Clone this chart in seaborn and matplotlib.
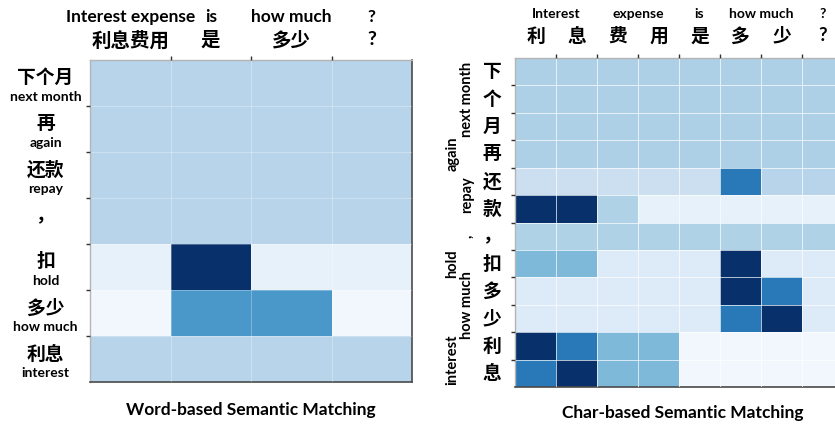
import matplotlib
matplotlib.use('Agg')
import matplotlib.pyplot as plt
import numpy as np
import pandas as pd
import seaborn as sns

# Word level: question words (columns) and reply words (rows)
q_words = ['利息费用', '是', '多少', '?']
q_words_en = ['Interest expense', 'is', 'how much', '?']
r_words = ['下个月', '再', '还款', '，', '扣', '多少', '利息']
r_words_en = ['next month', 'again', 'repay', '', 'hold', 'how much', 'interest']

word_scores = [
    [0.30, 0.30, 0.30, 0.30],
    [0.30, 0.30, 0.30, 0.30],
    [0.30, 0.30, 0.30, 0.30],
    [0.30, 0.30, 0.30, 0.30],
    [0.08, 1.00, 0.08, 0.08],
    [0.03, 0.60, 0.60, 0.03],
    [0.30, 0.30, 0.30, 0.30],
]

# Char level
q_chars = ['利', '息', '费', '用', '是', '多', '少', '?']
q_groups_en = ['Interest', 'expense', 'is', 'how much', '?']
q_group_sizes = [2, 2, 1, 2, 1]
r_chars = ['下', '个', '月', '再', '还', '款', '，', '扣', '多', '少', '利', '息']
r_groups_en = ['next month', 'again', 'repay', ',', 'hold', 'how much', 'interest']
r_group_sizes = [3, 1, 2, 1, 1, 2, 2]

char_scores = [
    [0.33, 0.33, 0.33, 0.33, 0.33, 0.33, 0.33, 0.33],
    [0.33, 0.33, 0.33, 0.33, 0.33, 0.33, 0.33, 0.33],
    [0.33, 0.33, 0.33, 0.33, 0.33, 0.33, 0.33, 0.33],
    [0.33, 0.33, 0.33, 0.33, 0.33, 0.33, 0.33, 0.33],
    [0.22, 0.22, 0.22, 0.22, 0.22, 0.72, 0.30, 0.30],
    [1.00, 1.00, 0.32, 0.08, 0.08, 0.08, 0.08, 0.08],
    [0.32, 0.32, 0.32, 0.32, 0.32, 0.32, 0.32, 0.32],
    [0.45, 0.45, 0.13, 0.13, 0.13, 1.00, 0.13, 0.13],
    [0.13, 0.13, 0.13, 0.13, 0.13, 1.00, 0.72, 0.13],
    [0.13, 0.13, 0.13, 0.13, 0.13, 0.72, 1.00, 0.13],
    [1.00, 0.72, 0.45, 0.45, 0.03, 0.03, 0.03, 0.03],
    [0.72, 1.00, 0.45, 0.45, 0.03, 0.03, 0.03, 0.03],
]

sns.set_theme(style='white')
plt.rcParams['font.family'] = ['Lato', 'Noto Sans CJK SC', 'DejaVu Sans']
plt.rcParams['font.weight'] = 'bold'
plt.rcParams['text.color'] = 'black'

W, H = 835, 426
fig = plt.figure(figsize=(W / 100, H / 100), dpi=100)


def px_axes(x0, y0, x1, y1):
    # pixel box (top-left origin) -> figure axes
    return fig.add_axes([x0 / W, 1 - y1 / H, (x1 - x0) / W, (y1 - y0) / H])


def draw_heat(ax, scores, rows, cols, grid_alpha):
    df = pd.DataFrame(scores, index=rows, columns=cols)
    sns.heatmap(df, ax=ax, cmap='Blues', vmin=0, vmax=1, cbar=False,
                xticklabels=False, yticklabels=False)
    ax.set_xticks(np.arange(1, len(cols)))
    ax.set_yticks(np.arange(1, len(rows)))
    ax.xaxis.tick_top()
    ax.tick_params(axis='both', length=3, width=1, color='#333333',
                   labelleft=False, labeltop=False, labelbottom=False,
                   left=True, top=True, bottom=False)
    ax.grid(True, color='white', lw=0.7, alpha=grid_alpha)
    ax.set_axisbelow(False)
    ax.set_xlabel('')
    ax.set_ylabel('')
    for side in ['top', 'left']:
        ax.spines[side].set_visible(True)
        ax.spines[side].set_color('#b5b5b5')
        ax.spines[side].set_linewidth(1.0)
    for side in ['bottom', 'right']:
        ax.spines[side].set_visible(True)
        ax.spines[side].set_color('#4a4a4a')
        ax.spines[side].set_linewidth(1.2)


# ---- Word-based ----
ax1 = px_axes(90, 60, 412, 382)
draw_heat(ax1, word_scores, r_words, q_words, 0.3)

xt = ax1.get_xaxis_transform()
yt = ax1.get_yaxis_transform()
for j, (zh, en) in enumerate(zip(q_words, q_words_en)):
    ax1.annotate(en, xy=(j + 0.5, 1), xycoords=xt, xytext=(0, 31),
                 textcoords='offset points', ha='center', va='center',
                 fontsize=12.5, fontweight='bold')
    ax1.annotate(zh, xy=(j + 0.5, 1), xycoords=xt, xytext=(0, 14.5),
                 textcoords='offset points', ha='center', va='center',
                 fontsize=14, fontweight='bold')
for i, (zh, en) in enumerate(zip(r_words, r_words_en)):
    ax1.annotate(zh, xy=(0, i + 0.5), xycoords=yt, xytext=(-32, 4),
                 textcoords='offset points', ha='center', va='center',
                 fontsize=13.5, fontweight='bold')
    ax1.annotate(en, xy=(0, i + 0.5), xycoords=yt, xytext=(-32, -10),
                 textcoords='offset points', ha='center', va='center',
                 fontsize=10, fontweight='bold')
fig.text(251 / W, 1 - 410 / H, 'Word-based Semantic Matching', ha='center',
         va='center', fontsize=12.5, fontweight='bold')

# ---- Char-based ----
ax2 = px_axes(515, 58, 843, 387)
draw_heat(ax2, char_scores, r_chars, q_chars, 0.7)

xt = ax2.get_xaxis_transform()
yt = ax2.get_yaxis_transform()
for j, zh in enumerate(q_chars):
    ax2.annotate(zh, xy=(j + 0.5, 1), xycoords=xt, xytext=(0, 16),
                 textcoords='offset points', ha='center', va='center',
                 fontsize=13.5, fontweight='bold')
start = 0
for en, n in zip(q_groups_en, q_group_sizes):
    ax2.annotate(en, xy=(start + n / 2, 1), xycoords=xt, xytext=(0, 32),
                 textcoords='offset points', ha='center', va='center',
                 fontsize=10, fontweight='bold')
    start += n
for i, zh in enumerate(r_chars):
    ax2.annotate(zh, xy=(0, i + 0.5), xycoords=yt, xytext=(-16.5, 0),
                 textcoords='offset points', ha='center', va='center',
                 fontsize=13.5, fontweight='bold')
label_dx = [-34.5, -45, -34.5, -34.5, -45, -34.5, -45]
start = 0
for en, n, dx in zip(r_groups_en, r_group_sizes, label_dx):
    ax2.annotate(en, xy=(0, start + n / 2), xycoords=yt, xytext=(dx, 0),
                 textcoords='offset points', ha='center', va='center',
                 fontsize=10.5, fontweight='bold', rotation=90)
    start += n
fig.text(683 / W, 1 - 413 / H, 'Char-based Semantic Matching', ha='center',
         va='center', fontsize=12.5, fontweight='bold')

fig.savefig('out.png', dpi=100)
